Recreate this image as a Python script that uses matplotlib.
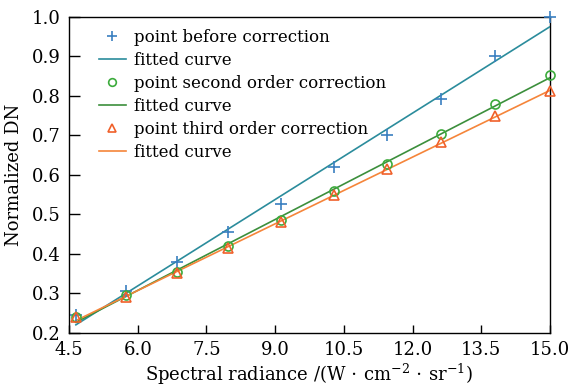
import numpy as np
import matplotlib
matplotlib.use("Agg")
import matplotlib.pyplot as plt

# spectral radiance of the calibration points
radiance = [4.65, 5.74, 6.86, 7.98, 9.13, 10.28, 11.45, 12.62, 13.80, 15.0]

# normalized DN for each correction stage
dn_before = [0.245, 0.307, 0.380, 0.455, 0.527, 0.620, 0.700, 0.793, 0.900, 1.000]
dn_second = [0.240, 0.295, 0.355, 0.420, 0.487, 0.560, 0.628, 0.705, 0.780, 0.853]
dn_third = [0.240, 0.290, 0.352, 0.415, 0.480, 0.550, 0.615, 0.683, 0.750, 0.812]

xticks = [4.5, 6.0, 7.5, 9.0, 10.5, 12.0, 13.5, 15.0]
yticks = [0.2, 0.3, 0.4, 0.5, 0.6, 0.7, 0.8, 0.9, 1.0]

plt.rcParams['font.family'] = ['DejaVu Serif']
plt.rcParams['mathtext.fontset'] = 'dejavuserif'

fig = plt.figure(figsize=(5.69, 3.86), dpi=100)
ax = fig.add_axes([0.1213, 0.1373, 0.8453, 0.8187])

x = np.array(radiance)

series = [
    (dn_before, '+', '#3a7fc0', '#2b8c9c', 'point before correction'),
    (dn_second, 'o', '#3cab3c', '#3c8f3c', 'point second order correction'),
    (dn_third, '^', '#f0602a', '#f5853a', 'point third order correction'),
]

for y, mk, pc, lc, lab in series:
    if mk == '+':
        ax.plot(x, y, linestyle='none', marker=mk, color=pc, markersize=8,
                markeredgewidth=1.2, label=lab, clip_on=False, zorder=4)
    else:
        ax.plot(x, y, linestyle='none', marker=mk, markerfacecolor='none',
                markeredgecolor=pc, markersize=6.5, markeredgewidth=1.2,
                label=lab, clip_on=False, zorder=4)
    # straight-line fit through the points
    k, b = np.polyfit(x, y, 1)
    ax.plot(x, k * x + b, color=lc, linewidth=1.2, label='fitted curve', zorder=3)

ax.set_xlim(4.5, 15.0)
ax.set_ylim(0.2, 1.0)
ax.set_xticks(xticks)
ax.set_yticks(yticks)
ax.set_xticklabels([f"{t:.1f}" for t in xticks])
ax.set_yticklabels([f"{t:.1f}" for t in yticks])
ax.tick_params(direction='in', length=6, width=1, labelsize=13, pad=6)
ax.tick_params(axis='y', length=8)
for s in ax.spines.values():
    s.set_linewidth(1.0)

ax.set_xlabel(r"Spectral radiance /(W$\,\cdot\,$cm$^{-2}\,\cdot\,$sr$^{-1}$)", fontsize=13, labelpad=2)
ax.set_ylabel("Normalized DN", fontsize=13, labelpad=6)

ax.legend(loc='upper left', frameon=False, fontsize=12, handlelength=1.6,
          handletextpad=0.5, labelspacing=0.36, borderaxespad=0.3,
          markerscale=0.85, bbox_to_anchor=(0.038, 1.0))

fig.savefig("out.png", dpi=100)
